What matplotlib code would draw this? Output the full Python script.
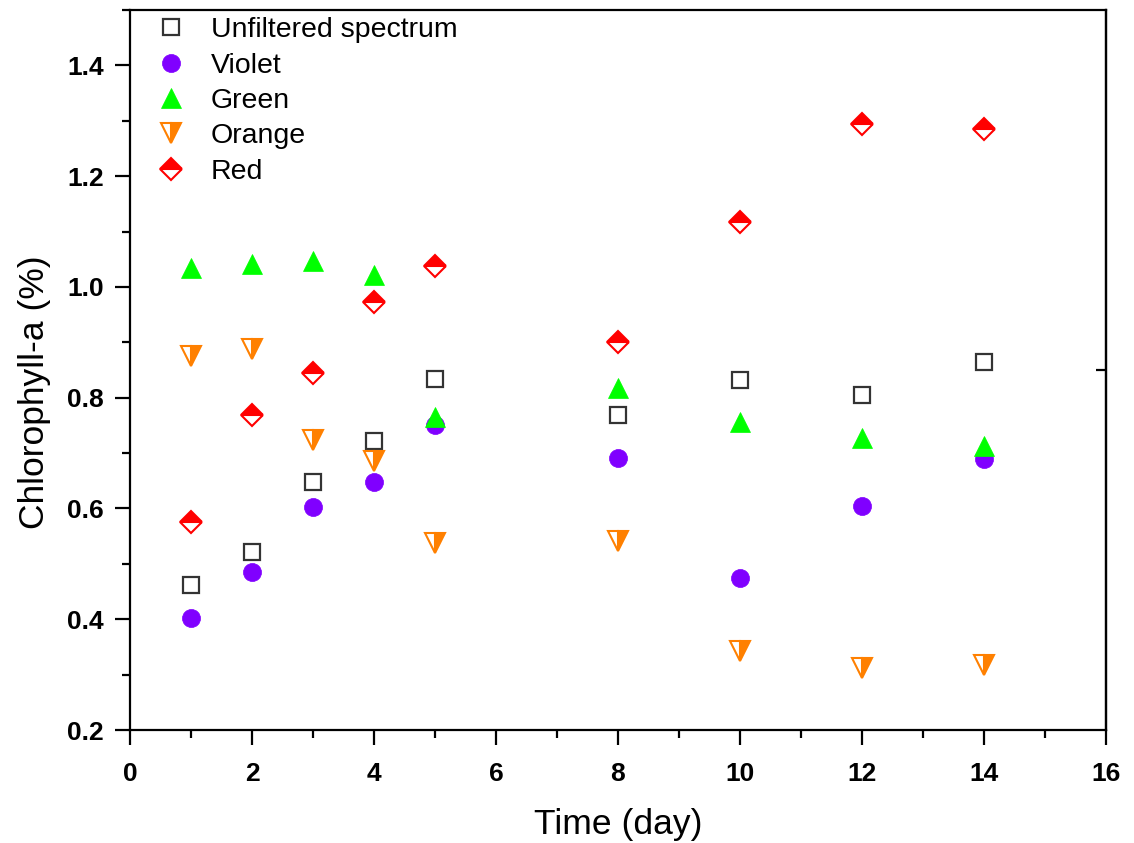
import matplotlib
matplotlib.use("Agg")
import matplotlib.pyplot as plt
from matplotlib.ticker import MultipleLocator

plt.rcParams['font.family'] = ['Liberation Sans', 'DejaVu Sans']

days = [1, 2, 3, 4, 5, 8, 10, 12, 14]
unfiltered = [0.461, 0.522, 0.647, 0.721, 0.834, 0.769, 0.832, 0.804, 0.865]
violet = [0.402, 0.486, 0.602, 0.647, 0.750, 0.692, 0.474, 0.604, 0.690]
green = [1.034, 1.041, 1.047, 1.022, 0.766, 0.818, 0.757, 0.728, 0.712]
orange = [0.876, 0.888, 0.723, 0.685, 0.537, 0.541, 0.342, 0.312, 0.317]
red = [0.576, 0.768, 0.845, 0.973, 1.038, 0.901, 1.117, 1.294, 1.286]

x_ticks = [0, 2, 4, 6, 8, 10, 12, 14, 16]
y_ticks = [0.2, 0.4, 0.6, 0.8, 1.0, 1.2, 1.4]
y_tick_labels = ['0.2', '0.4', '0.6', '0.8', '1.0', '1.2', '1.4']

fig = plt.figure(figsize=(11.34, 8.43), dpi=100)
ax = fig.add_axes([130/1134, 113/843, 976/1134, 720/843])

ax.plot(days, unfiltered, ls='none', marker='s', ms=11.5, mfc='white', mec='#333333', mew=1.6,
        label='Unfiltered spectrum')
ax.plot(days, violet, ls='none', marker='o', ms=13, mfc='#8000FF', mec='#8000FF', mew=0.5,
        label='Violet')
ax.plot(days, green, ls='none', marker='^', ms=15, mfc='#00FF00', mec='#00FF00', mew=0.5,
        label='Green')
ax.plot(days, orange, ls='none', marker='v', ms=15, fillstyle='right', mfc='#FF8000',
        mfcalt='white', mec='#FF8000', mew=1.5, label='Orange')
ax.plot(days, red, ls='none', marker='D', ms=11.5, fillstyle='top', mfc='#FF0000',
        mfcalt='white', mec='#FF0000', mew=1.5, label='Red')

ax.set_xlim(0, 16)
ax.set_ylim(0.2, 1.5)
ax.set_xticks(x_ticks)
ax.set_xticklabels([str(v) for v in x_ticks], fontsize=19, fontweight='bold')
ax.set_yticks(y_ticks)
ax.set_yticklabels(y_tick_labels, fontsize=19, fontweight='bold')
ax.xaxis.set_minor_locator(MultipleLocator(1))
ax.yaxis.set_minor_locator(MultipleLocator(0.1))

for sp in ax.spines.values():
    sp.set_linewidth(1.6)

ax.tick_params(axis='x', which='major', direction='out', length=11, width=1.6, pad=12)
ax.tick_params(axis='y', which='major', direction='out', length=11, width=1.6, pad=8)
ax.tick_params(which='minor', direction='out', length=6, width=1.6)

sec = ax.secondary_yaxis('right')
sec.set_yticks([0.85])
sec.set_yticklabels([''])
sec.tick_params(direction='in', length=7, width=1.6)
sec.spines['right'].set_linewidth(1.6)

ax.set_xlabel('Time (day)', fontsize=25.5)
ax.set_ylabel('Chlorophyll-a (%)', fontsize=25.5)
ax.xaxis.set_label_coords(0.5, -0.108)
ax.yaxis.set_label_coords(-0.081, 0.469)

ax.legend(loc='upper left', bbox_to_anchor=(0.023, 0.99), frameon=False, fontsize=20.5,
          handletextpad=0.75, labelspacing=0.33, borderaxespad=0.0, borderpad=0.0,
          handlelength=1.3, markerscale=1.0)

fig.savefig('out.png', dpi=100)
